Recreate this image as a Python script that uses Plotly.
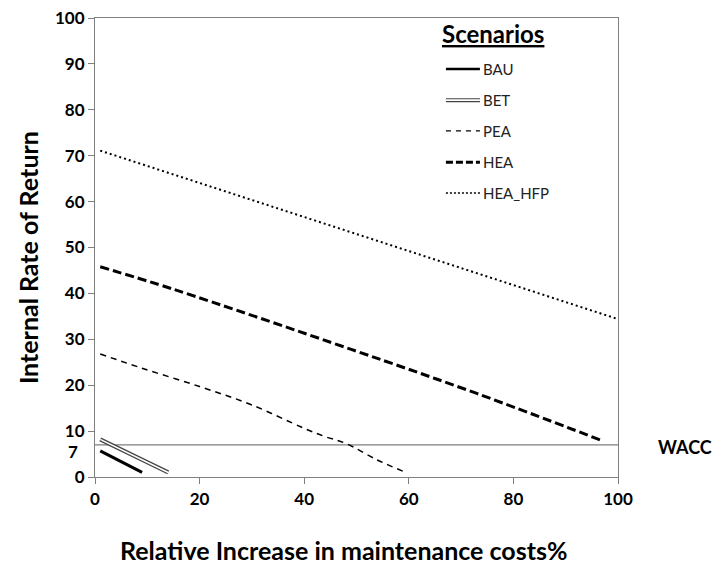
import plotly.graph_objects as go

# Data
bau_x = [1, 9]
bau_y = [5.7, 1.0]
bet_x = [1, 14]
bet_y = [8.2, 1.0]
pea_x = [1, 9, 20, 30, 40, 44, 48, 54, 59]
pea_y = [26.8, 23.7, 19.7, 15.7, 10.6, 8.8, 7.3, 3.7, 1.2]
hea_x = [1, 15, 49, 73, 97]
hea_y = [45.8, 40.9, 27.8, 18.2, 7.9]
hfp_x = [1, 50, 100]
hfp_y = [71.1, 52.9, 34.4]
wacc_x = [0, 100]
wacc_y = [7, 7]

x_ticks = [0, 20, 40, 60, 80, 100]
y_ticks = [0, 10, 20, 30, 40, 50, 60, 70, 80, 90, 100]

FONT = "Lato"
fig = go.Figure()

fig.add_trace(go.Scatter(x=wacc_x, y=wacc_y, mode="lines",
                         line=dict(color="#7f7f7f", width=1.2), showlegend=False))
fig.add_trace(go.Scatter(x=bau_x, y=bau_y, mode="lines",
                         line=dict(color="black", width=3), showlegend=False))
fig.add_trace(go.Scatter(x=bet_x, y=bet_y, mode="lines",
                         line=dict(color="#444444", width=4), showlegend=False))
fig.add_trace(go.Scatter(x=bet_x, y=bet_y, mode="lines",
                         line=dict(color="white", width=1.6), showlegend=False))
fig.add_trace(go.Scatter(x=pea_x, y=pea_y, mode="lines", line_shape="spline",
                         line=dict(color="black", width=1.5, dash="6px,5px"), showlegend=False))
fig.add_trace(go.Scatter(x=hea_x, y=hea_y, mode="lines", line_shape="spline",
                         line=dict(color="black", width=3, dash="9px,4px"), showlegend=False))
fig.add_trace(go.Scatter(x=hfp_x, y=hfp_y, mode="lines",
                         line=dict(color="black", width=2, dash="2px,3px"), showlegend=False))

# Manual legend
shapes = []
annotations = []
lx0, lx1, ltx = 0.671, 0.736, 0.738
entries = [
    ("BAU", 0.889, [dict(color="black", width=2.5)]),
    ("BET", 0.821, [dict(color="#444444", width=4), dict(color="white", width=1.6)]),
    ("PEA", 0.754, [dict(color="black", width=1.3, dash="5px,5px")]),
    ("HEA", 0.686, [dict(color="black", width=3, dash="7px,3px")]),
    ("HEA_HFP", 0.619, [dict(color="black", width=1.5, dash="2px,2px")]),
]
for name, yy, lines in entries:
    for ln in lines:
        shapes.append(dict(type="line", xref="paper", yref="paper",
                           x0=lx0, x1=lx1, y0=yy, y1=yy, line=ln))
    annotations.append(dict(text=name, xref="paper", yref="paper", x=ltx, y=yy,
                            xanchor="left", yanchor="middle", showarrow=False,
                            font=dict(family=FONT, size=15, color="#222222")))
annotations.append(dict(text="<b><u>Scenarios</u></b>", xref="paper", yref="paper",
                        x=0.660, y=0.967, xanchor="left", yanchor="middle",
                        showarrow=False, font=dict(family=FONT, size=24, color="black")))
annotations.append(dict(text="<b>WACC</b>", xref="paper", yref="y", x=1.128, y=6.5,
                        xanchor="center", yanchor="middle", showarrow=False,
                        font=dict(family=FONT, size=18, color="black")))
annotations.append(dict(text="<b>7</b>", xref="paper", yref="y", x=0, y=7,
                        xanchor="right", yanchor="middle", xshift=-15, yshift=-7,
                        showarrow=False, font=dict(family=FONT, size=17, color="black")))
annotations.append(dict(text="<b>Relative Increase in maintenance costs%</b>",
                        xref="paper", yref="paper", x=0.476, y=-0.159,
                        xanchor="center", yanchor="middle", showarrow=False,
                        font=dict(family=FONT, size=25, color="black")))
annotations.append(dict(text="<b>Internal Rate of Return</b>",
                        xref="paper", yref="paper", x=-0.128, y=0.477, textangle=-90,
                        xanchor="center", yanchor="middle", showarrow=False,
                        font=dict(family=FONT, size=25, color="black")))

# page body has an 8px default margin; size the figure to fit the 720x564 view
fig.update_layout(
    width=712, height=556,
    margin=dict(l=87, r=102, t=10, b=87),
    plot_bgcolor="white", paper_bgcolor="white",
    shapes=shapes, annotations=annotations,
    showlegend=False,
    xaxis=dict(range=[0, 100], tickvals=x_ticks, automargin=False,
               ticktext=[f"<b>{v}</b>" for v in x_ticks], ticklabeloverflow="allow",
               showgrid=False, zeroline=False,
               showline=True, linecolor="#808080", linewidth=1.2, mirror=True,
               ticks="outside", ticklen=6, tickcolor="#808080",
               tickfont=dict(family=FONT, size=17, color="black")),
    yaxis=dict(range=[0, 100], tickvals=y_ticks, automargin=False,
               ticktext=[f"<b>{v}</b>" for v in y_ticks], ticklabeloverflow="allow",
               showgrid=False, zeroline=False,
               showline=True, linecolor="#808080", linewidth=1.2, mirror=True,
               ticks="outside", ticklen=6, tickcolor="#808080",
               tickfont=dict(family=FONT, size=17, color="black")),
)

fig.write_html("out.html")
